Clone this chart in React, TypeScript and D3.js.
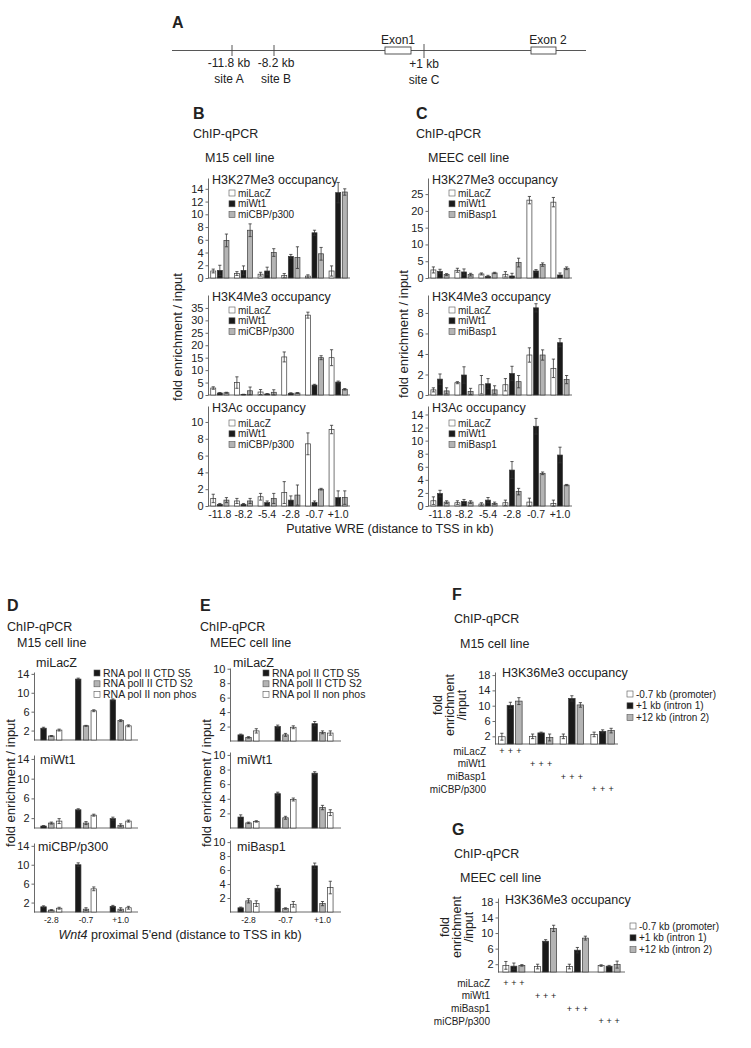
import React, { useEffect, useRef } from "react";
import * as d3 from "d3";

const FONT = "'Liberation Sans', Arial, Helvetica, sans-serif";

// ---- categories / labels
const sites = ["-11.8", "-8.2", "-5.4", "-2.8", "-0.7", "+1.0"];
const polSites = ["-2.8", "-0.7", "+1.0"];
const k36Groups = ["miLacZ", "miWt1", "miBasp1", "miCBP/p300"];

const m15Legend = ["miLacZ", "miWt1", "miCBP/p300"];
const meecLegend = ["miLacZ", "miWt1", "miBasp1"];
const polLegend = ["RNA pol II CTD S5", "RNA poll II CTD S2", "RNA pol II non phos"];
const k36Legend = ["-0.7 kb (promoter)", "+1 kb (intron 1)", "+12 kb (intron 2)"];

// ---- B: M15 (series: miLacZ, miWt1, miCBP/p300)
const m15K27 = [[1.1, 0.7, 0.6, 0.4, 0.3, 1.1], [1.2, 1.2, 1.1, 3.4, 7.1, 13.4], [5.9, 7.5, 4.0, 3.2, 3.8, 13.5]];
const m15K27Err = [[0.3, 0.3, 0.3, 0.3, 0.2, 0.8], [0.8, 0.7, 0.6, 0.3, 0.4, 1.6], [1.0, 1.0, 0.6, 1.7, 1.0, 0.5]];
const m15K4 = [[2.8, 5.0, 1.2, 15.3, 32.1, 15.0], [0.8, 0.2, 0.4, 0.7, 4.0, 5.2], [0.9, 1.7, 1.1, 0.8, 15.0, 2.3]];
const m15K4Err = [[0.5, 2.3, 1.0, 2.0, 1.2, 3.2], [0.2, 0.1, 0.2, 0.2, 0.3, 0.4], [0.2, 1.5, 1.0, 0.2, 0.8, 0.3]];
const m15Ac = [[0.9, 0.6, 1.1, 1.6, 7.4, 9.1], [0.2, 0.2, 0.4, 0.7, 0.4, 1.0], [0.7, 0.6, 0.9, 1.3, 2.0, 1.0]];
const m15AcErr = [[0.5, 0.3, 0.4, 1.3, 1.3, 0.5], [0.1, 0.1, 0.2, 0.5, 0.2, 0.8], [0.3, 0.3, 0.6, 1.2, 0.1, 0.8]];

// ---- C: MEEC (series: miLacZ, miWt1, miBasp1)
const meecK27 = [[2.4, 2.3, 1.2, 1.1, 23.2, 22.6], [2.0, 1.8, 0.5, 0.6, 2.1, 0.9], [1.0, 1.0, 1.5, 4.6, 4.0, 2.9]];
const meecK27Err = [[0.9, 0.6, 0.3, 0.8, 1.1, 1.4], [0.6, 0.9, 0.3, 0.8, 0.4, 0.6], [0.3, 0.4, 0.2, 1.3, 0.5, 0.4]];
const meecK4 = [[0.5, 1.2, 1.0, 1.0, 3.9, 2.6], [1.55, 1.95, 1.1, 2.1, 8.5, 5.1], [0.4, 0.35, 0.5, 1.3, 3.9, 1.5]];
const meecK4Err = [[0.2, 0.1, 0.9, 0.6, 0.7, 0.9], [0.5, 0.8, 0.5, 0.7, 0.4, 0.4], [0.3, 0.3, 0.4, 0.6, 0.5, 0.4]];
const meecAc = [[0.8, 0.5, 0.3, 0.5, 0.6, 0.4], [1.9, 0.7, 0.9, 5.5, 12.2, 7.8], [0.6, 0.6, 0.4, 2.2, 5.0, 3.2]];
const meecAcErr = [[0.6, 0.3, 0.2, 0.4, 0.6, 0.5], [0.5, 0.3, 0.4, 1.3, 1.2, 1.2], [0.2, 0.2, 0.2, 0.5, 0.2, 0.1]];

// ---- D: M15 RNA pol II (series: S5, S2, non phos)
const polLacZ = [[2.5, 12.9, 8.5], [0.85, 3.0, 4.1], [2.1, 6.2, 3.0]];
const polLacZErr = [[0.2, 0.2, 0.2], [0.1, 0.1, 0.2], [0.2, 0.2, 0.2]];
const polWt1 = [[0.4, 3.7, 1.9], [1.0, 1.0, 0.55], [1.4, 2.6, 1.4]];
const polWt1Err = [[0.1, 0.2, 0.3], [0.2, 0.3, 0.3], [0.5, 0.2, 0.2]];
const polCbp = [[1.1, 10.0, 1.2], [0.4, 0.6, 0.6], [0.8, 4.9, 0.9]];
const polCbpErr = [[0.2, 0.4, 0.2], [0.1, 0.3, 0.3], [0.2, 0.4, 0.3]];

// ---- E: MEEC RNA pol II
const mPolLacZ = [[0.85, 2.0, 2.4], [0.5, 0.85, 1.2], [1.4, 1.9, 1.1]];
const mPolLacZErr = [[0.1, 0.2, 0.3], [0.1, 0.2, 0.2], [0.3, 0.2, 0.3]];
const mPolWt1 = [[1.5, 4.7, 7.5], [0.7, 1.4, 2.8], [0.9, 3.9, 2.1]];
const mPolWt1Err = [[0.3, 0.2, 0.2], [0.1, 0.2, 0.3], [0.1, 0.2, 0.4]];
const mPolBasp1 = [[0.6, 3.4, 6.6], [1.6, 0.5, 1.2], [1.2, 1.1, 3.5]];
const mPolBasp1Err = [[0.1, 0.4, 0.4], [0.3, 0.1, 0.3], [0.4, 0.4, 0.9]];

// ---- F / G: H3K36Me3 (series: -0.7 kb, +1 kb, +12 kb)
const m15K36 = [[1.9, 2.0, 2.0, 2.5], [10.1, 2.9, 11.9, 3.3], [11.2, 1.7, 10.2, 3.5]];
const m15K36Err = [[0.9, 0.6, 0.6, 0.6], [0.8, 0.2, 0.7, 0.4], [0.9, 0.9, 0.6, 0.6]];
const meecK36 = [[1.7, 1.4, 1.4, 1.65], [1.5, 7.9, 5.6, 1.5], [1.7, 11.2, 8.7, 1.9]];
const meecK36Err = [[1.0, 0.6, 0.6, 0.2], [0.8, 0.4, 0.7, 0.2], [0.2, 0.8, 0.5, 0.9]];

const WHITE = "#ffffff";
const BLACK = "#1a1a1a";
const GRAY = "#b4b4b4";
const INK = "#222";

type Sel = d3.Selection<SVGGElement, unknown, null, undefined>;

function txt(g: Sel, x: number, y: number, s: string, size: number, opts: any = {}) {
  const t = g.append("text")
    .attr("x", x)
    .attr("y", y)
    .attr("font-family", FONT)
    .attr("font-size", size)
    .attr("fill", INK)
    .attr("text-anchor", opts.anchor || "start")
    .text(s);
  if (opts.bold) t.attr("font-weight", "bold");
  if (opts.rotate) t.attr("transform", `rotate(-90,${x},${y})`);
  return t;
}

function chart(g: Sel, o: any) {
  const x = d3.scaleBand().domain(o.cats).range([o.x0, o.x1]);
  const y = d3.scaleLinear().domain([0, o.ymax]).range([o.yBase, o.yTop]);
  const ax = g.append("g")
    .attr("transform", `translate(${o.x0},0)`)
    .call(d3.axisLeft(y).tickValues(o.ticks).tickSize(2.5).tickSizeOuter(0).tickPadding(2));
  ax.attr("font-family", FONT).attr("font-size", o.tickSize || 11);
  ax.selectAll("text").attr("fill", INK);
  ax.select(".domain").attr("stroke", "#444").attr("stroke-width", 0.8);
  ax.selectAll(".tick line").attr("stroke", "#444").attr("stroke-width", 0.8);
  g.append("line")
    .attr("x1", o.x0).attr("x2", o.x1)
    .attr("y1", o.yBase).attr("y2", o.yBase)
    .attr("stroke", "#444").attr("stroke-width", 0.8);

  const n = o.data.length;
  const cx = (ci: number, si: number) => (x(o.cats[ci]) as number) + x.bandwidth() / 2 + (si - (n - 1) / 2) * o.step;
  o.data.forEach((series: number[], si: number) => {
    const sg = g.append("g");
    sg.selectAll("rect").data(series).join("rect")
      .attr("x", (d, i) => cx(i, si) - o.barW / 2)
      .attr("y", (d) => y(d))
      .attr("width", o.barW)
      .attr("height", (d) => o.yBase - y(d))
      .attr("fill", o.fills[si])
      .attr("stroke", "#3a3a3a")
      .attr("stroke-width", 0.7);
    const err = o.err[si];
    sg.selectAll("path.err").data(series).join("path")
      .attr("class", "err")
      .attr("d", (d, i) => {
        const c = cx(i, si);
        const hi = y(d + err[i]);
        const lo = Math.min(y(Math.max(d - err[i], 0)), o.yBase);
        return `M${c},${lo}V${hi}M${c - 1.6},${hi}H${c + 1.6}M${c - 1.6},${lo}H${c + 1.6}`;
      })
      .attr("stroke", "#333")
      .attr("stroke-width", 0.8)
      .attr("fill", "none");
  });
  if (o.title) txt(g, o.titleX, o.titleY, o.title, o.titleSize || 12.5);
  if (o.legend) {
    o.legend.forEach((l: string, i: number) => {
      const yy = o.legY + i * o.legStep;
      g.append("rect")
        .attr("x", o.legX).attr("y", yy - 3).attr("width", 6).attr("height", 6)
        .attr("fill", o.fills[i]).attr("stroke", "#555").attr("stroke-width", 0.6);
      txt(g, o.legX + 9, yy + 3.5, l, o.legSize || 10);
    });
  }
  return { x, y, cx };
}

function drawFigure(svgEl: SVGSVGElement) {
  const svg = d3.select(svgEl);
  svg.selectAll("*").remove();
  const g = svg.append("g") as unknown as Sel;

  // ---------- Panel A: gene schematic
  txt(g, 172, 28, "A", 16, { bold: true });
  const ln = (x1: number, y1: number, x2: number, y2: number) =>
    g.append("line").attr("x1", x1).attr("y1", y1).attr("x2", x2).attr("y2", y2)
      .attr("stroke", "#444").attr("stroke-width", 0.9);
  ln(172, 50.5, 586, 50.5);
  ln(232, 45, 232, 56);
  ln(274, 45, 274, 56);
  ln(424, 44, 424, 58);
  g.append("rect").attr("x", 385).attr("y", 47).attr("width", 26).attr("height", 7)
    .attr("fill", "#fff").attr("stroke", "#444").attr("stroke-width", 0.9);
  g.append("rect").attr("x", 531).attr("y", 47).attr("width", 25).attr("height", 7)
    .attr("fill", "#fff").attr("stroke", "#444").attr("stroke-width", 0.9);
  txt(g, 398, 44, "Exon1", 12, { anchor: "middle" });
  txt(g, 548, 44, "Exon 2", 12, { anchor: "middle" });
  txt(g, 229, 67, "-11.8 kb", 12, { anchor: "middle" });
  txt(g, 229, 83, "site A", 12, { anchor: "middle" });
  txt(g, 276, 67, "-8.2 kb", 12, { anchor: "middle" });
  txt(g, 276, 83, "site B", 12, { anchor: "middle" });
  txt(g, 424, 68, "+1 kb", 12, { anchor: "middle" });
  txt(g, 424, 84, "site C", 12, { anchor: "middle" });

  // ---------- Panels B and C
  const rows = [
    { yTop: 178, yBase: 278, title: "H3K27Me3 occupancy" },
    { yTop: 295, yBase: 395, title: "H3K4Me3 occupancy" },
    { yTop: 406, yBase: 506, title: "H3Ac occupancy" },
  ];
  const bSets = [
    { data: m15K27, err: m15K27Err, ymax: 15.7, ticks: [0, 2, 4, 6, 8, 10, 12, 14] },
    { data: m15K4, err: m15K4Err, ymax: 40.2, ticks: [0, 5, 10, 15, 20, 25, 30, 35] },
    { data: m15Ac, err: m15AcErr, ymax: 11.9, ticks: [0, 2, 4, 6, 8, 10] },
  ];
  const cSets = [
    { data: meecK27, err: meecK27Err, ymax: 29.8, ticks: [0, 5, 10, 15, 20, 25] },
    { data: meecK4, err: meecK4Err, ymax: 9.75, ticks: [0, 2, 4, 6, 8] },
    { data: meecAc, err: meecAcErr, ymax: 15.3, ticks: [0, 2, 4, 6, 8, 10, 12, 14] },
  ];
  const panels = [
    { letter: "B", lx: 193, x0: 208, x1: 350, cell: "M15 cell line", sets: bSets, legend: m15Legend, ylx: 182, yly: 337 },
    { letter: "C", lx: 416, x0: 428, x1: 572, cell: "MEEC cell line", sets: cSets, legend: meecLegend, ylx: 408, yly: 334 },
  ];
  panels.forEach((p) => {
    txt(g, p.lx, 119, p.letter, 16, { bold: true });
    txt(g, p.lx, 138, "ChIP-qPCR", 12.5);
    txt(g, p.lx + 12, 162, p.cell, 12.5);
    let xs: any = null;
    rows.forEach((r, ri) => {
      const s = p.sets[ri];
      const res = chart(g, {
        x0: p.x0, x1: p.x1, yBase: r.yBase, yTop: r.yTop, ymax: s.ymax, ticks: s.ticks,
        cats: sites, data: s.data, err: s.err, fills: [WHITE, BLACK, GRAY],
        barW: 5, step: 6.6, tickSize: 11,
        title: r.title, titleX: p.x0 + 4, titleY: r.yTop + 6,
        legend: p.legend, legX: p.x0 + 21, legY: r.yTop + 15 + (ri === 2 ? 2 : 0), legStep: 10.8,
      });
      xs = res.x;
    });
    sites.forEach((s) => {
      txt(g, (xs(s) as number) + xs.bandwidth() / 2, 518, s, 10.5, { anchor: "middle" });
    });
    txt(g, p.ylx, p.yly, "fold enrichment / input", 13, { anchor: "middle", rotate: true });
  });
  txt(g, 390, 533, "Putative WRE (distance to TSS in kb)", 12.5, { anchor: "middle" });

  // ---------- Panels D and E
  const polPanels = [
    {
      letter: "D", lx: 7, x0: 34, x1: 138, cell: "M15 cell line", ticks: [2, 6, 10, 14], ylx: 15,
      charts: [
        { name: "miLacZ", data: polLacZ, err: polLacZErr, yBase: 740, yTop: 672, ymax: 14.4, tx: 36, ty: 667, legend: true },
        { name: "miWt1", data: polWt1, err: polWt1Err, yBase: 828, yTop: 755, ymax: 14.8, tx: 40, ty: 764 },
        { name: "miCBP/p300", data: polCbp, err: polCbpErr, yBase: 912, yTop: 843, ymax: 14.6, tx: 38, ty: 851 },
      ],
      legX: 94,
    },
    {
      letter: "E", lx: 200, x0: 230, x1: 341, cell: "MEEC cell line", ticks: [2, 4, 6, 8, 10], ylx: 211,
      charts: [
        { name: "miLacZ", data: mPolLacZ, err: mPolLacZErr, yBase: 741, yTop: 668, ymax: 10.1, tx: 233, ty: 667, legend: true },
        { name: "miWt1", data: mPolWt1, err: mPolWt1Err, yBase: 828, yTop: 752, ymax: 10.4, tx: 237, ty: 764 },
        { name: "miBasp1", data: mPolBasp1, err: mPolBasp1Err, yBase: 912, yTop: 840, ymax: 10.3, tx: 237, ty: 851 },
      ],
      legX: 263,
    },
  ];
  polPanels.forEach((p) => {
    txt(g, p.lx, 611, p.letter, 16, { bold: true });
    txt(g, p.lx, 631, "ChIP-qPCR", 12.5);
    txt(g, p.lx + 10, 647, p.cell, 12.5);
    let xs: any = null;
    p.charts.forEach((c) => {
      const res = chart(g, {
        x0: p.x0, x1: p.x1, yBase: c.yBase, yTop: c.yTop, ymax: c.ymax, ticks: p.ticks,
        cats: polSites, data: c.data, err: c.err, fills: [BLACK, GRAY, WHITE],
        barW: 5.5, step: 7.8, tickSize: 11,
        legend: c.legend ? polLegend : null, legX: p.legX, legY: 673, legStep: 10.8, legSize: 10.5,
      });
      txt(g, c.tx, c.ty, c.name, 12.5);
      xs = res.x;
    });
    polSites.forEach((s) => {
      txt(g, (xs(s) as number) + xs.bandwidth() / 2, 923, s, 8.5, { anchor: "middle" });
    });
    txt(g, p.ylx, 783, "fold enrichment / input", 13, { anchor: "middle", rotate: true });
  });
  const wt = g.append("text")
    .attr("x", 180).attr("y", 939).attr("font-family", FONT).attr("font-size", 12.5)
    .attr("fill", INK).attr("text-anchor", "middle");
  wt.append("tspan").attr("font-style", "italic").text("Wnt4");
  wt.append("tspan").text(" proximal 5'end (distance to TSS in kb)");

  // ---------- Panels F and G
  const k36Panels = [
    {
      letter: "F", lx: 452, top: 600, cell: "M15 cell line", cellY: 648, x0: 495, x1: 618,
      yBase: 744, yTop: 672, ymax: 18.8, titleY: 677, titleX: 502, legY: 694,
      data: m15K36, err: m15K36Err, rowX: 486, rowY: 751, ylY: 705, ylX: 442, legX: 627, barW: 6.5, step: 8.5,
    },
    {
      letter: "G", lx: 452, top: 835, cell: "MEEC cell line", cellY: 882, x0: 498, x1: 625,
      yBase: 972, yTop: 898, ymax: 19.0, titleY: 904, titleX: 505, legY: 926,
      data: meecK36, err: meecK36Err, rowX: 490, rowY: 983, ylY: 927, ylX: 449, legX: 630, barW: 6, step: 8,
    },
  ];
  k36Panels.forEach((p) => {
    txt(g, p.lx, p.top, p.letter, 16, { bold: true });
    txt(g, p.lx + 2, p.top + 23, "ChIP-qPCR", 12.5);
    txt(g, p.lx + 8, p.cellY, p.cell, 12.5);
    const res = chart(g, {
      x0: p.x0, x1: p.x1, yBase: p.yBase, yTop: p.yTop, ymax: p.ymax, ticks: [2, 6, 10, 14, 18],
      cats: k36Groups, data: p.data, err: p.err, fills: [WHITE, BLACK, GRAY],
      barW: p.barW, step: p.step, tickSize: 11,
      title: "H3K36Me3 occupancy", titleX: p.titleX, titleY: p.titleY,
      legend: k36Legend, legX: p.legX, legY: p.legY, legStep: 11.8, legSize: 10,
    });
    k36Groups.forEach((name, ri) => {
      const yy = p.rowY + ri * 12.8;
      txt(g, p.rowX, yy + 3.5, name, 10, { anchor: "end" });
      [0, 1, 2].forEach((si) => {
        txt(g, res.cx(ri, si), yy + 3, "+", 9, { anchor: "middle" });
      });
    });
    ["fold", "enrichment", "/input"].forEach((w, i) => {
      txt(g, p.ylX + i * 12, p.ylY, w, 12.5, { anchor: "middle", rotate: true });
    });
  });
}

export default function App() {
  const ref = useRef<SVGSVGElement>(null);
  useEffect(() => {
    if (ref.current) drawFigure(ref.current);
  }, []);
  return (
    <svg
      ref={ref}
      width={751}
      height={1048}
      style={{ position: "absolute", left: 0, top: 0, background: "#fff" }}
    />
  );
}
